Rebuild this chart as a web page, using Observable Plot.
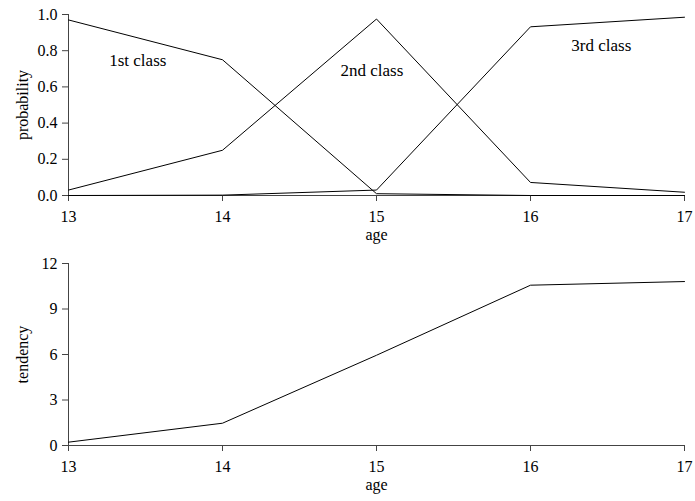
<!DOCTYPE html>
<html>
<head>
<meta charset="utf-8">
<script src="https://cdn.jsdelivr.net/npm/d3@7"></script>
<script src="https://cdn.jsdelivr.net/npm/@observablehq/plot@0.6"></script>
<style>
  html, body { margin: 0; padding: 0; background: #fff; }
  #chart svg { display: block; }
  #chart svg, #chart svg text { font-family: "Liberation Serif", "DejaVu Serif", serif !important; }
</style>
</head>
<body>
<div id="chart"></div>
<script>
// ---- data ----
const ages = [13, 14, 15, 16, 17];
const firstClass  = [0.97, 0.75, 0.01, 0.0, 0.0];
const secondClass = [0.03, 0.25, 0.975, 0.072, 0.018];
const thirdClass  = [0.0, 0.002, 0.03, 0.932, 0.985];
const tendency    = [0.22, 1.47, 5.95, 10.57, 10.81];
const probTicks = [0, 0.2, 0.4, 0.6, 0.8, 1.0];
const tendTicks = [0, 3, 6, 9, 12];
const classNames = ["1st class", "2nd class", "3rd class"];
const classLabelAge  = [13.45, 14.97, 16.46];
const classLabelProb = [0.746, 0.69, 0.827];

const FONT = "Liberation Serif, DejaVu Serif, serif";

const series = [firstClass, secondClass, thirdClass];
const probRows = series.flatMap((vals, k) =>
  ages.map((a, i) => ({age: a, p: vals[i], cls: classNames[k]})));
const tendRows = ages.map((a, i) => ({age: a, t: tendency[i]}));
const labelRows = classNames.map((n, i) => ({name: n, age: classLabelAge[i], p: classLabelProb[i]}));

const common = {
  width: 695,
  marginLeft: 68,
  marginRight: 11,
  style: {fontFamily: FONT, fontSize: "16px", color: "#000", background: "#fff"}
};

const topPanel = Plot.plot({
  ...common,
  height: 250,
  marginTop: 14,
  marginBottom: 55,
  x: {domain: [13, 17]},
  y: {domain: [0, 1]},
  marks: [
    Plot.axisX({ticks: ages, tickSize: 6, tickPadding: 9, tickFormat: d3.format("d"), label: null, stroke: "#444", fontSize: 16}),
    Plot.axisY({ticks: probTicks, tickSize: 6, tickPadding: 5, tickFormat: d3.format(".1f"), label: null, stroke: "#444", fontSize: 16}),
    Plot.ruleX([13], {stroke: "#444"}),
    Plot.ruleY([0], {stroke: "#444"}),
    Plot.line(probRows, {x: "age", y: "p", z: "cls", stroke: "#000", strokeWidth: 1}),
    Plot.text(labelRows, {x: "age", y: "p", text: "name", fontSize: 17, fill: "#000"}),
    Plot.text(["age"], {frameAnchor: "bottom", dy: 44, fontSize: 16, fill: "#000"}),
    Plot.text(["probability"], {frameAnchor: "left", dx: -46, rotate: -90, textAnchor: "middle", fontSize: 16, fill: "#000"})
  ]
});

const bottomPanel = Plot.plot({
  ...common,
  height: 251,
  marginTop: 13,
  marginBottom: 56,
  x: {domain: [13, 17]},
  y: {domain: [0, 12]},
  marks: [
    Plot.axisX({ticks: ages, tickSize: 6, tickPadding: 9, tickFormat: d3.format("d"), label: null, stroke: "#444", fontSize: 16}),
    Plot.axisY({ticks: tendTicks, tickSize: 6, tickPadding: 5, tickFormat: d3.format("d"), label: null, stroke: "#444", fontSize: 16}),
    Plot.ruleX([13], {stroke: "#444"}),
    Plot.ruleY([0], {stroke: "#444"}),
    Plot.line(tendRows, {x: "age", y: "t", stroke: "#000", strokeWidth: 1}),
    Plot.text(["age"], {frameAnchor: "bottom", dy: 44, fontSize: 16, fill: "#000"}),
    Plot.text(["tendency"], {frameAnchor: "left", dx: -46, rotate: -90, textAnchor: "middle", fontSize: 16, fill: "#000"})
  ]
});

const chart = document.getElementById("chart");
chart.appendChild(topPanel);
chart.appendChild(bottomPanel);
</script>
</body>
</html>
